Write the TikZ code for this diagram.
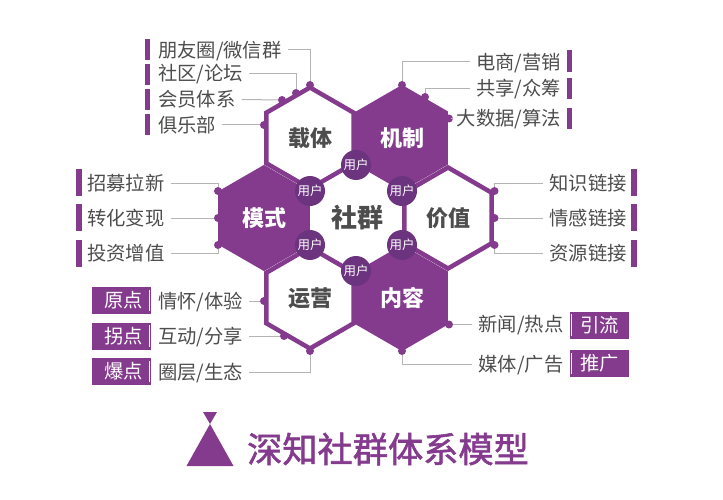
\documentclass[tikz,border=0pt]{standalone}
\usepackage{fontspec}
\usepackage{tikz}
\usetikzlibrary{shapes.geometric}
\setmainfont{Noto Sans CJK SC}
\newfontfamily\titlefont[FakeBold=1.6]{Noto Sans CJK SC}
\definecolor{hexpurple}{HTML}{843B8E}
\definecolor{userpurple}{HTML}{6C337F}
\definecolor{leadgray}{HTML}{B4B4B4}
\definecolor{textgray}{HTML}{4D4D4D}
\tikzset{
  hexcell/.style={regular polygon, regular polygon sides=6, shape border rotate=30, minimum size=101, inner sep=0, outer sep=0, line width=4.5, draw=hexpurple},
  hexfull/.style={hexcell, fill=hexpurple, text=white},
  hexopen/.style={hexcell, fill=white, text=textgray},
  hexname/.style={font=\fontsize{22}{23}\selectfont\bfseries},
  usernode/.style={circle, fill=userpurple, text=white, minimum size=30, inner sep=0, font=\fontsize{12.5}{13}\selectfont},
  dotnode/.style={circle, fill=hexpurple, minimum size=8, inner sep=0},
  labelnode/.style={text=textgray, inner xsep=6, inner ysep=0, text height=16, text depth=1.5, font=\fontsize{19.3}{20}\selectfont},
  thinbar/.style={fill=hexpurple, minimum width=5.5, minimum height=21.5, inner sep=0},
  widebar/.style={fill=hexpurple, minimum width=6, minimum height=27, inner sep=0},
  tagnode/.style={fill=hexpurple, text=white, minimum width=59, minimum height=27, inner sep=0, font=\fontsize{19.3}{20}\selectfont},
  leader/.style={draw=leadgray, line width=1},
  notch/.style={draw=white, line width=0.8},
}
\begin{document}
\begin{tikzpicture}[x=1pt,y=-1pt]
\useasboundingbox (0,0) rectangle (723,500);

% hexagons
\node[hexopen, hexname] (carrier) at (310,138) {载体};
\node[hexopen, hexname] (value) at (448,218) {价值};
\node[hexopen, hexname] (operate) at (310,298) {运营};
\node[hexfull, hexname] (mechanism) at (402,138) {机制};
\node[hexfull, hexname] (mode) at (264,218) {模式};
\node[hexfull, hexname] (content) at (402,298) {内容};
\node[text=textgray, font=\fontsize{26}{27}\selectfont\bfseries] (community) at (357,218) {社群};

% users
\node[usernode] (usertop) at (356,165) {用户};
\node[usernode] (userul) at (310,191) {用户};
\node[usernode] (userur) at (402,191) {用户};
\node[usernode] (userll) at (310,245) {用户};
\node[usernode] (userlr) at (402,245) {用户};
\node[usernode] (userbot) at (356,271) {用户};

% upper left
\node[thinbar] (bara) at (147.5,49.5) {};
\node[thinbar] (barb) at (147.5,74.5) {};
\node[thinbar] (barc) at (147.5,99.5) {};
\node[thinbar] (bard) at (147.5,124.5) {};
\node[labelnode, anchor=west] (friends) at (152,50) {朋友圈/微信群};
\node[labelnode, anchor=west] (forum) at (152,73.5) {社区/论坛};
\node[labelnode, anchor=west] (member) at (152,99.5) {会员体系};
\node[labelnode, anchor=west] (club) at (152,125) {俱乐部};
\node[dotnode] (dotfriends) at (310,85) {};
\node[dotnode] (dotforum) at (296,93) {};
\node[dotnode] (dotmember) at (282,100) {};
\node[dotnode] (dotclub) at (264,125) {};
\draw[leader] (friends.east) -| (dotfriends);
\draw[leader] (forum.east) -| (dotforum);
\draw[leader] (member.east) -- (dotmember);
\draw[leader] (club.east) -- (dotclub);

% upper right
\node[thinbar] (bare) at (569.5,61) {};
\node[thinbar] (barf) at (569.5,88.5) {};
\node[thinbar] (barg) at (569.5,118.5) {};
\node[labelnode, anchor=east] (shop) at (567,62) {电商/营销};
\node[labelnode, anchor=east] (share) at (567,88.5) {共享/众筹};
\node[labelnode, anchor=east] (data) at (567,118.5) {大数据/算法};
\node[dotnode] (dotshop) at (402,85) {};
\node[dotnode] (dotshare) at (425,97) {};
\node[dotnode] (dotdata) at (449,118.5) {};
\draw[leader] (shop.west) -| (dotshop);
\draw[leader] (share.west) -| (dotshare);
\draw[leader] (data.west) -- (dotdata);

% middle left
\node[widebar] (barh) at (78.5,182.5) {};
\node[widebar] (bari) at (78.5,217.5) {};
\node[widebar] (barj) at (78.5,253.5) {};
\node[labelnode, anchor=west] (recruit) at (81,183) {招募拉新};
\node[labelnode, anchor=west] (convert) at (81,218) {转化变现};
\node[labelnode, anchor=west] (invest) at (81,253) {投资增值};
\node[dotnode] (dotrecruit) at (218,191) {};
\node[dotnode] (dotconvert) at (218,218) {};
\node[dotnode] (dotinvest) at (218,245) {};
\draw[leader] (recruit.east) -| (dotrecruit);
\draw[leader] (convert.east) -- (dotconvert);
\draw[leader] (invest.east) -| (dotinvest);

% middle right
\node[widebar] (bark) at (634,182.5) {};
\node[widebar] (barl) at (634,217.5) {};
\node[widebar] (barm) at (634,253.5) {};
\node[labelnode, anchor=east] (know) at (633,183) {知识链接};
\node[labelnode, anchor=east] (feel) at (633,218) {情感链接};
\node[labelnode, anchor=east] (asset) at (633,253) {资源链接};
\node[dotnode] (dotknow) at (494.5,191) {};
\node[dotnode] (dotfeel) at (494.5,218) {};
\node[dotnode] (dotasset) at (494.5,245) {};
\draw[leader] (know.west) -| (dotknow);
\draw[leader] (feel.west) -- (dotfeel);
\draw[leader] (asset.west) -| (dotasset);

% lower left
\node[tagnode] (origin) at (121.5,300.5) {\hspace{4pt}原点};
\node[tagnode] (turn) at (121.5,336) {\hspace{4pt}拐点};
\node[tagnode] (burst) at (121.5,371.5) {\hspace{4pt}爆点};
\draw[notch] ([shift={(-1.5,3)}]origin.north east) -- ([shift={(-1.5,-3)}]origin.south east);
\draw[notch] ([shift={(-1.5,3)}]turn.north east) -- ([shift={(-1.5,-3)}]turn.south east);
\draw[notch] ([shift={(-1.5,3)}]burst.north east) -- ([shift={(-1.5,-3)}]burst.south east);
\node[labelnode, anchor=west] (mood) at (152,301) {情怀/体验};
\node[labelnode, anchor=west] (talk) at (152,336) {互动/分享};
\node[labelnode, anchor=west] (circle) at (152,372) {圈层/生态};
\node[dotnode] (dotmood) at (264,301) {};
\node[dotnode] (dottalk) at (284,336) {};
\node[dotnode] (dotcircle) at (310,351) {};
\draw[leader] (mood.east) -- (dotmood);
\draw[leader] (talk.east) -- (dottalk);
\draw[leader] (circle.east) -| (dotcircle);

% lower right
\node[tagnode] (flow) at (599.5,325) {引流\hspace{3pt}};
\node[tagnode] (push) at (599.5,363.5) {推广\hspace{3pt}};
\draw[notch] ([shift={(1.5,3)}]flow.north west) -- ([shift={(1.5,-3)}]flow.south west);
\draw[notch] ([shift={(1.5,3)}]push.north west) -- ([shift={(1.5,-3)}]push.south west);
\node[labelnode, anchor=east] (news) at (569.5,324.5) {新闻/热点};
\node[labelnode, anchor=east] (media) at (569.5,364) {媒体/广告};
\node[dotnode] (dotnews) at (449,324.5) {};
\node[dotnode] (dotmedia) at (402,351) {};
\draw[leader] (news.west) -- (dotnews);
\draw[leader] (media.west) -| (dotmedia);

% title
\fill[hexpurple] (203,412) -- (217,412) -- (210,424) -- (233.5,466) -- (186.5,466) -- (210,424) -- cycle;
\node[text=hexpurple, anchor=west, inner sep=0, font=\fontsize{35.2}{36}\titlefont] (title) at (247,449) {深知社群体系模型};
\end{tikzpicture}
\end{document}
